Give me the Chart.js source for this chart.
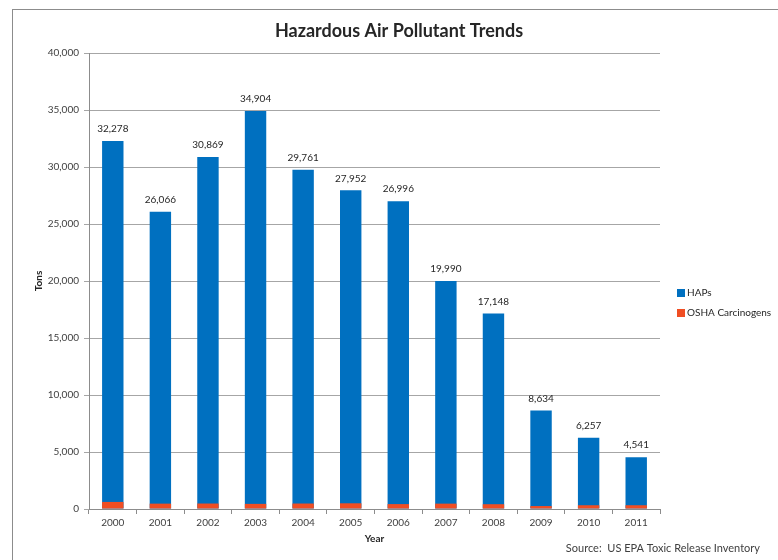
<!DOCTYPE html>
<html>
<head>
<meta charset="utf-8">
<script src="https://cdn.jsdelivr.net/npm/chart.js@4/dist/chart.umd.min.js"></script>
<style>
  body { margin: 0; background: #fff; }
  #wrap { width: 778px; height: 560px; position: relative; }
</style>
</head>
<body>
<div id="wrap"><canvas id="hapChart"></canvas></div>
<script>
const years = ['2000', '2001', '2002', '2003', '2004', '2005', '2006', '2007', '2008', '2009', '2010', '2011'];
const hapsTons = [32278, 26066, 30869, 34904, 29761, 27952, 26996, 19990, 17148, 8634, 6257, 4541];
const oshaTons = [620, 470, 480, 450, 480, 500, 430, 470, 420, 260, 330, 330];
const yTicks = [0, 5000, 10000, 15000, 20000, 25000, 30000, 35000, 40000];

const FONT = 'Lato, "Open Sans", sans-serif';
const TEXT = '#404040';

// frame round the chart, as in the original sheet
const framePlugin = {
    id: 'frame',
    beforeDraw(chart) {
        const c = chart.ctx;
        c.save();
        c.fillStyle = '#fff';
        c.fillRect(0, 0, chart.width, chart.height);
        c.strokeStyle = '#8c8c8c';
        c.lineWidth = 1;
        c.strokeRect(12.5, 9.5, 900, 700);
        c.restore();
    }
};

// value labels above the HAPs bars
const valueLabels = {
    id: 'valueLabels',
    afterDatasetsDraw(chart) {
        const c = chart.ctx;
        const meta = chart.getDatasetMeta(0);
        c.save();
        c.font = '10px ' + FONT;
        c.fillStyle = '#262626';
        c.textAlign = 'center';
        c.textBaseline = 'bottom';
        meta.data.forEach((bar, i) => {
            c.fillText(hapsTons[i].toLocaleString('en-US'), bar.x, bar.y - 7);
        });
        c.restore();
    }
};

// title, legend on the right and source note
const extras = {
    id: 'extras',
    afterDraw(chart) {
        const c = chart.ctx;
        c.save();
        c.font = 'bold 18px ' + FONT;
        c.fillStyle = '#262626';
        c.textAlign = 'center';
        c.textBaseline = 'middle';
        c.fillText('Hazardous Air Pollutant Trends', 399, 31);

        c.font = '10px ' + FONT;
        c.textAlign = 'left';
        chart.data.datasets.forEach((ds, i) => {
            const y = 293 + i * 20;
            c.fillStyle = ds.backgroundColor;
            c.fillRect(677, y - 4, 8, 8);
            c.fillStyle = '#262626';
            c.fillText(ds.label, 687, y);
        });
        c.font = '11px ' + FONT;
        c.fillStyle = TEXT;
        c.textAlign = 'right';
        c.fillText('Source:  US EPA Toxic Release Inventory', 760, 548);
        c.restore();
    }
};

new Chart(document.getElementById('hapChart'), {
    type: 'bar',
    data: {
        labels: years,
        datasets: [
            { label: 'HAPs', data: hapsTons, backgroundColor: '#0070c0', order: 1 },
            { label: 'OSHA Carcinogens', data: oshaTons, backgroundColor: '#f04e23', order: 0 }
        ]
    },
    options: {
        responsive: true,
        maintainAspectRatio: false,
        animation: false,
        layout: { padding: { left: 29, right: 118, top: 53, bottom: 11 } },
        datasets: { bar: { categoryPercentage: 1, barPercentage: 0.45 } },
        plugins: {
            legend: { display: false },
            tooltip: { enabled: false },
            title: { display: false }
        },
        scales: {
            x: {
                stacked: true,
                grid: { drawOnChartArea: false, color: '#8c8c8c', tickLength: 5 },
                border: { color: '#8c8c8c' },
                ticks: { color: TEXT, font: { family: FONT, size: 10 }, padding: 3 },
                title: { display: true, text: 'Year', color: '#262626', font: { family: FONT, size: 10, weight: 'bold' }, padding: { top: 4 } },
                afterFit(s) { s.height = 40; }
            },
            y: {
                stacked: false,
                min: 0,
                max: 40000,
                afterBuildTicks(s) { s.ticks = yTicks.map(v => ({ value: v })); },
                grid: { color: '#a6a6a6', tickLength: 5 },
                border: { color: '#8c8c8c' },
                ticks: {
                    color: TEXT,
                    font: { family: FONT, size: 10 },
                    padding: 5,
                    callback: v => v.toLocaleString('en-US')
                },
                title: { display: true, text: 'Tons', color: '#262626', font: { family: FONT, size: 10, weight: 'bold' } },
                afterFit(s) { s.width = 60; }
            }
        }
    },
    plugins: [framePlugin, valueLabels, extras]
});
</script>
</body>
</html>
